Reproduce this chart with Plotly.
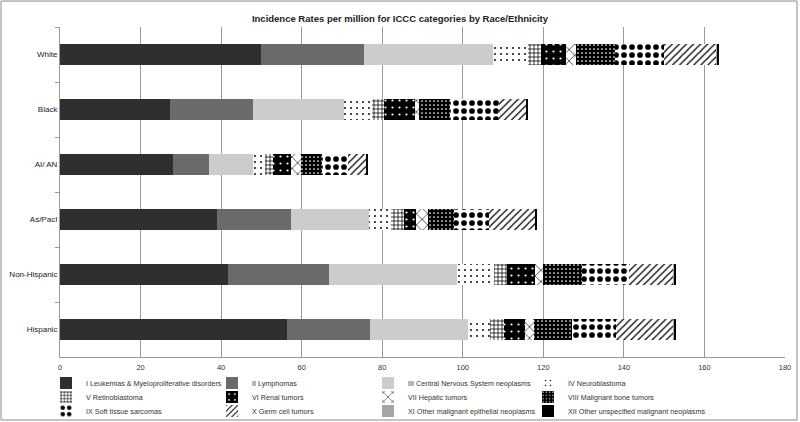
import plotly.graph_objects as go

groups = ["White", "Black", "AI/ AN", "As/PacI", "Non-Hispanic", "Hispanic"]

categories = [
    "I Leukemias & Myeloproliferative disorders",
    "II Lymphomas",
    "III Central Nervous System neoplasms",
    "IV Neuroblastoma",
    "V Retinoblastoma",
    "VI Renal tumors",
    "VII Hepatic tumors",
    "VIII Malignant bone tumors",
    "IX Soft tissue sarcomas",
    "X Germ cell tumors",
    "XI Other malignant epithelial neoplasms",
    "XII Other unspecified malignant neoplasms",
]

# values per ICCC category, in order of groups
leukemias = [49.9, 27.3, 28.1, 38.9, 41.6, 56.4]
lymphomas = [25.5, 20.5, 8.9, 18.5, 25.1, 20.6]
cns = [32.1, 22.6, 11.0, 19.2, 31.9, 24.4]
neuroblastoma = [8.7, 7.0, 2.9, 5.6, 9.1, 5.3]
retinoblastoma = [3.1, 3.1, 2.1, 3.3, 3.3, 3.6]
renal = [6.4, 7.7, 4.4, 2.9, 7.0, 5.2]
hepatic = [2.4, 1.0, 2.5, 3.0, 1.9, 2.1]
bone = [9.8, 7.7, 5.1, 6.3, 9.7, 9.5]
soft_tissue = [12.0, 12.0, 6.6, 8.7, 11.6, 11.0]
germ_cell = [13.2, 6.9, 4.4, 11.6, 11.2, 14.3]
epithelial = [0.1, 0.1, 0.1, 0.1, 0.2, 0.2]
unspecified = [0.4, 0.3, 0.3, 0.3, 0.4, 0.4]

series = [leukemias, lymphomas, cns, neuroblastoma, retinoblastoma, renal,
          hepatic, bone, soft_tissue, germ_cell, epithelial, unspecified]

x_ticks = [0, 20, 40, 60, 80, 100, 120, 140, 160, 180]


def pat(shape, fg, size, solidity):
    return dict(shape=shape, fgcolor=fg, size=size, solidity=solidity,
                fillmode="overlay", fgopacity=1)


styles = [
    dict(color="#2f2f2f"),
    dict(color="#6a6a6a"),
    dict(color="#cccccc"),
    dict(color="white", pattern=pat(".", "black", 6, 0.08)),
    dict(color="white", pattern=pat("+", "black", 4, 0.35)),
    dict(color="black", pattern=pat(".", "white", 7, 0.08)),
    dict(color="white", pattern=pat("x", "black", 8, 0.15)),
    dict(color="black", pattern=pat(".", "white", 4, 0.15)),
    dict(color="white", pattern=pat(".", "black", 8, 0.4)),
    dict(color="white", pattern=pat("/", "black", 5, 0.25)),
    dict(color="#a6a6a6"),
    dict(color="black"),
]

FONT = "Liberation Sans, Arial, sans-serif"
PLOT_L, PLOT_W, PLOT_B, PLOT_H = 60, 725, 357, 330

fig = go.Figure()
legend_layout = {}
col_text_x = [86, 252, 408, 568]
row_y = [383, 397, 411]
for i, (name, vals, st) in enumerate(zip(categories, series, styles)):
    marker = dict(color=st["color"], line=dict(width=0))
    if "pattern" in st:
        marker["pattern"] = st["pattern"]
    key = "legend" if i == 0 else f"legend{i + 1}"
    fig.add_trace(go.Bar(
        y=groups, x=vals, name=name, orientation="h", marker=marker, legend=key,
    ))
    r, c = divmod(i, 4)
    legend_layout[key] = dict(
        orientation="h", xanchor="left", yanchor="middle",
        x=(col_text_x[c] - 40 - PLOT_L) / PLOT_W,
        y=(PLOT_B - row_y[r]) / PLOT_H,
        font=dict(family=FONT, size=7.2, color="#333333"),
        itemwidth=30, bgcolor="rgba(0,0,0,0)",
    )

fig.update_layout(
    template="none",
    barmode="stack",
    bargap=0.62,
    width=800, height=422,
    margin=dict(l=60, r=15, t=27, b=65, autoexpand=False),
    paper_bgcolor="white",
    plot_bgcolor="white",
    font=dict(family=FONT, size=8, color="#333333"),
    title=dict(
        text="<b>Incidence Rates per million for ICCC categories by Race/Ethnicity</b>",
        x=0.5, xanchor="center", xref="container", y=1 - 19 / 422, yanchor="middle",
        font=dict(family=FONT, size=9.5, color="#222222"),
    ),
    showlegend=True,
    **legend_layout,
)

fig.update_xaxes(
    range=[0, 180], tickvals=x_ticks, showgrid=True, gridcolor="#9a9a9a", gridwidth=1,
    showline=True, linecolor="#9a9a9a", linewidth=1, ticks="", zeroline=False,
    tickfont=dict(family=FONT, size=7.5, color="#333333"), automargin=False,
    ticklabelstandoff=3,
)
fig.update_yaxes(
    categoryorder="array", categoryarray=groups, autorange="reversed",
    showline=True, linecolor="#9a9a9a", linewidth=1, ticks="outside",
    tickson="boundaries", ticklen=4, tickcolor="#9a9a9a", showgrid=False,
    tickfont=dict(family=FONT, size=8, color="#222222"), automargin=False,
)

fig.add_shape(
    type="rect", xref="paper", yref="paper",
    x0=(1 - 60) / 725, x1=(797 - 60) / 725, y0=(357 - 420) / 330, y1=(357 - 1) / 330,
    line=dict(color="#8a8a8a", width=1), fillcolor="rgba(0,0,0,0)", layer="below",
)

fig.write_html(
    "out.html",
    config={"displayModeBar": False},
    post_script="document.body.style.margin='0px';document.body.style.padding='0px';",
)
